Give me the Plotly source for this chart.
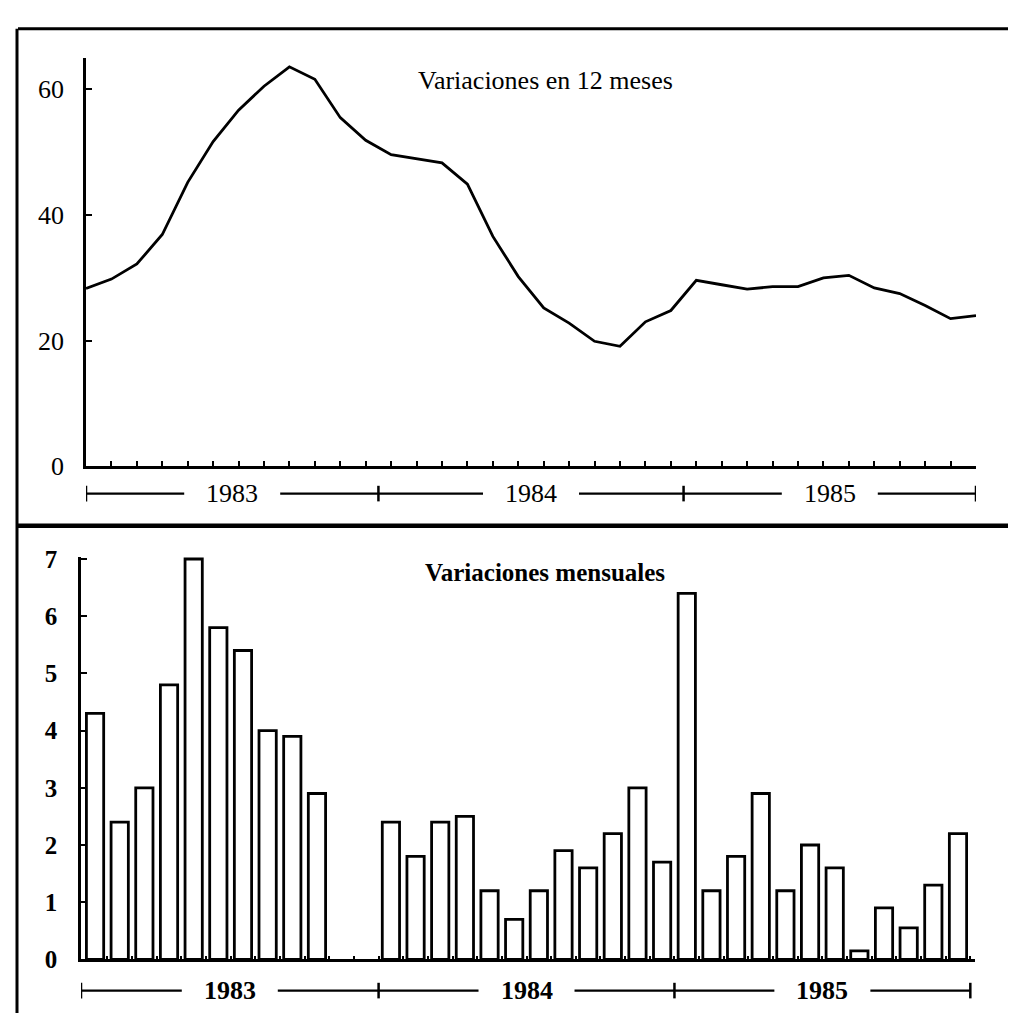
import plotly.graph_objects as go

# ---------------- data ----------------
anios = ["1983", "1984", "1985"]
meses_por_anio = 12
var_12_meses = [28.3, 29.8, 32.2, 36.9, 45.2, 51.7, 56.7, 60.5, 63.6, 61.6, 55.5, 51.9,
                49.6, 49.0, 48.3, 44.9, 36.6, 30.2, 25.2, 22.8, 19.9, 19.1, 23.0, 24.8,
                29.6, 28.9, 28.2, 28.6, 28.6, 30.0, 30.4, 28.4, 27.5, 25.6, 23.5, 24.0]
var_mensual = [4.3, 2.4, 3.0, 4.8, 7.0, 5.8, 5.4, 4.0, 3.9, 2.9, None, None,
               2.4, 1.8, 2.4, 2.5, 1.2, 0.7, 1.2, 1.9, 1.6, 2.2, 3.0, 1.7,
               6.4, 1.2, 1.8, 2.9, 1.2, 2.0, 1.6, 0.15, 0.9, 0.55, 1.3, 2.2]
ticks_12 = [0, 20, 40, 60]
ticks_mens = [0, 1, 2, 3, 4, 5, 6, 7]
titulo_12 = "Variaciones en 12 meses"
titulo_mens = "Variaciones mensuales"

# ---------------- layout helpers ----------------
W, H = 1016, 1020
SERIF = "Liberation Serif, Times New Roman, serif"


def px_x(p):
    return p / W


def px_y(p):
    return 1 - p / H


n = len(var_12_meses)
meses = list(range(n))

# top panel geometry (pixels)
top_x0, top_x1 = 78, 968
top_y0, top_y1 = 459, 40
top_range_x = [0, n - 1]
top_range_y = [0, 65]
# bottom panel geometry
bot_x0, bot_x1 = 73, 967
bot_range_x = [-0.57, n - 0.31]
bot_y0 = 965
bot_range_y = [0, 7.04]
bot_px_per_unit = 58.7
bot_y1 = bot_y0 - bot_range_y[1] * bot_px_per_unit

fig = go.Figure()
fig.add_trace(go.Scatter(x=meses, y=var_12_meses, mode="lines",
                         line=dict(color="black", width=2.8),
                         xaxis="x", yaxis="y", hoverinfo="skip"))
fig.add_trace(go.Bar(x=meses, y=var_mensual, width=0.7,
                     marker=dict(color="white", line=dict(color="black", width=2.8)),
                     xaxis="x2", yaxis="y2", hoverinfo="skip"))

axis_common = dict(showgrid=False, zeroline=False, showline=True, linecolor="black",
                   linewidth=2.6, ticks="inside", tickcolor="black", tickwidth=2)

fig.update_layout(
    width=W, height=H, margin=dict(l=0, r=0, t=0, b=0),
    paper_bgcolor="white", plot_bgcolor="white", showlegend=False,
    xaxis=dict(domain=[px_x(top_x0), px_x(top_x1)], range=top_range_x,
               tickvals=list(range(1, n)), ticklen=6, showticklabels=False,
               anchor="y", **axis_common),
    yaxis=dict(domain=[px_y(top_y0), px_y(top_y1)], range=top_range_y,
               tickvals=ticks_12, ticklen=6, ticklabelstandoff=14,
               tickfont=dict(family=SERIF, size=26, color="black"),
               anchor="x", **axis_common),
    xaxis2=dict(domain=[px_x(bot_x0), px_x(bot_x1)], range=bot_range_x,
                tickvals=[i + 0.5 for i in range(n)], ticklen=4, showticklabels=False,
                anchor="y2", **axis_common),
    yaxis2=dict(domain=[px_y(bot_y0), px_y(bot_y1)], range=bot_range_y,
                tickvals=ticks_mens, ticklen=6, ticklabelstandoff=16,
                tickfont=dict(family=SERIF, size=25, color="black", weight="bold"),
                anchor="x2", **axis_common),
)

# panel frame
frame = dict(type="line", xref="paper", yref="paper", line=dict(color="black", width=3))
fig.add_shape(**frame, x0=px_x(10), x1=1, y0=px_y(10), y1=px_y(10))
fig.add_shape(**frame, x0=px_x(9), x1=px_x(9), y0=0, y1=px_y(10))
fig.add_shape(type="line", xref="paper", yref="paper", x0=px_x(9), x1=1,
              y0=px_y(520), y1=px_y(520), line=dict(color="black", width=4.5))

# titles
fig.add_annotation(text=titulo_12, xref="paper", yref="paper", x=px_x(408), y=px_y(63),
                   xanchor="left", yanchor="middle", showarrow=False,
                   font=dict(family=SERIF, size=26, color="black"))
fig.add_annotation(text=titulo_mens, xref="paper", yref="paper", x=px_x(415), y=px_y(568),
                   xanchor="left", yanchor="middle", showarrow=False,
                   font=dict(family=SERIF, size=25, color="black", weight="bold"))


# year brackets
def year_brackets(xref, rng, x_px0, x_px1, y_px, bold, start, end):
    units_per_px = (rng[1] - rng[0]) / (x_px1 - x_px0)
    gap = 48 * units_per_px
    edges = [start] + [meses_por_anio * k - 0.5 for k in range(1, len(anios))] + [end]
    yb = px_y(y_px)
    tick = 8 / H
    line = dict(color="black", width=2.2)
    for i, anio in enumerate(anios):
        a, b = edges[i], edges[i + 1]
        c = (a + b) / 2
        fig.add_shape(type="line", xref=xref, yref="paper", x0=a, x1=c - gap, y0=yb, y1=yb, line=line)
        fig.add_shape(type="line", xref=xref, yref="paper", x0=c + gap, x1=b, y0=yb, y1=yb, line=line)
        fig.add_annotation(text=anio, xref=xref, yref="paper", x=c, y=yb, showarrow=False,
                           xanchor="center", yanchor="middle",
                           font=dict(family=SERIF, size=26, color="black",
                                     weight="bold" if bold else "normal"))
    for e in edges:
        fig.add_shape(type="line", xref=xref, yref="paper", x0=e, x1=e,
                      y0=yb - tick, y1=yb + tick, line=dict(color="black", width=2.5))


year_brackets("x", top_range_x, top_x0, top_x1, 487, False, top_range_x[0], top_range_x[1])
year_brackets("x2", bot_range_x, bot_x0, bot_x1, 997, True, bot_range_x[0], n - 0.5)

fig.write_html("out.html")
